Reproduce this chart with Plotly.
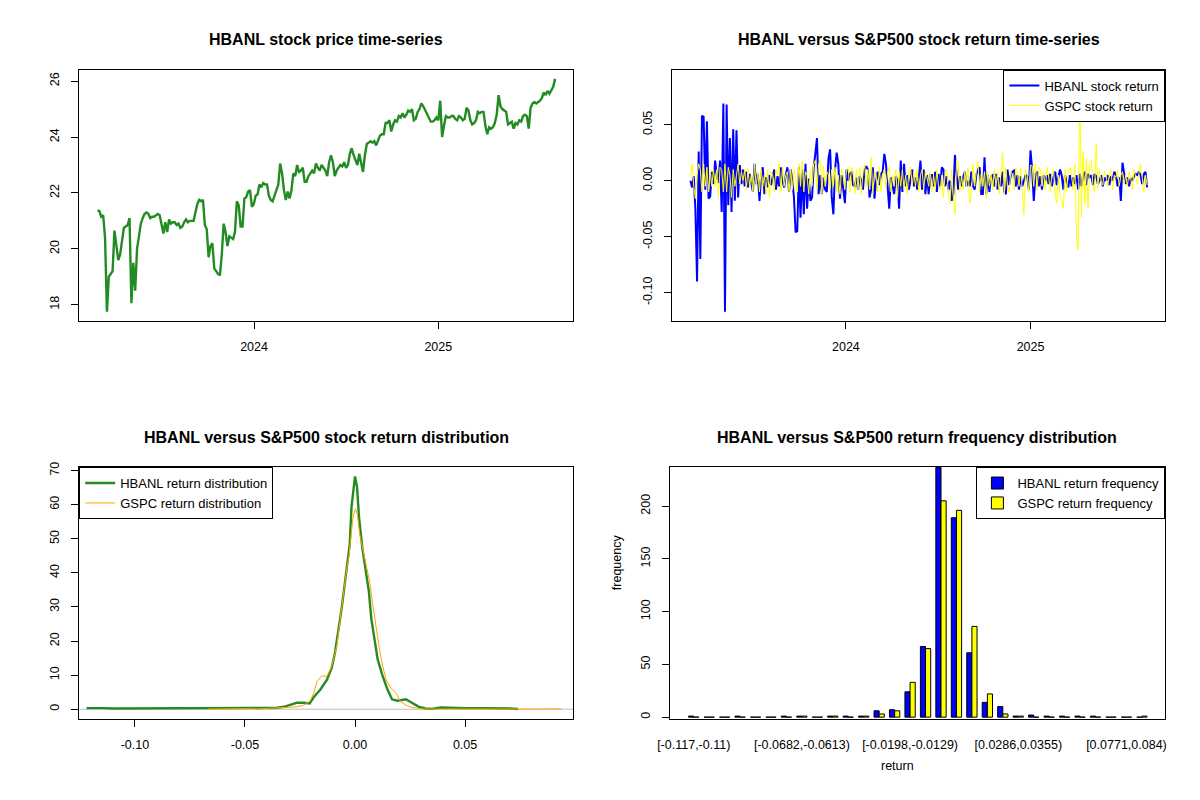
import numpy as np
import pandas as pd
import plotly.graph_objects as go

# ---- data ----
# HBANL closing price, evenly spaced between the first and last trading day
price_start, price_end = "2023-02-24", "2025-08-21"
hbanl_price = [
    21.38, 21.35, 21.15, 21.2, 20.4, 17.75, 19.0, 19.1, 19.2, 20.65,
    20.0, 19.6, 19.8, 20.2, 20.75, 20.8, 20.85, 21.1, 18.05, 19.5,
    18.5, 20.0, 20.4, 20.9, 21.1, 21.25, 21.3, 21.25, 21.1, 21.15,
    21.15, 21.2, 21.25, 21.2, 20.9, 20.55, 20.95, 20.6, 21.05, 20.9,
    20.95, 20.95, 20.85, 20.9, 20.75, 20.8, 20.95, 21.05, 20.95, 21.0,
    21.0, 21.0, 21.3, 21.6, 21.75, 21.7, 21.75, 20.85, 20.7, 19.7,
    20.1, 20.2, 19.3, 19.2, 19.1, 19.05, 19.8, 20.9, 20.6, 20.1,
    20.45, 20.4, 20.35, 20.6, 21.7, 21.55, 20.8, 20.8, 21.8, 21.85,
    22.05, 22.1, 21.5, 21.6, 21.9, 21.95, 22.3, 22.2, 22.35, 22.3,
    22.3, 21.9, 21.75, 21.7, 21.9, 22.1, 22.3, 23.05, 22.7, 22.1,
    21.75, 22.05, 21.8, 22.1, 22.7, 22.6, 23.0, 22.75, 22.8, 22.9,
    22.4, 22.4, 22.6, 22.7, 22.8, 22.7, 23.05, 22.9, 22.8, 23.0,
    22.9, 22.8, 22.6, 23.1, 23.35, 23.1, 22.6, 22.8, 22.9, 23.0,
    22.95, 23.1, 22.9, 23.0, 23.4, 23.6, 23.35, 23.2, 23.0, 23.4,
    23.0, 22.75, 23.35, 23.75, 23.8, 23.85, 23.8, 23.85, 23.7, 23.85,
    24.05, 24.1, 24.1, 24.5, 24.5, 24.6, 24.2, 24.45, 24.6, 24.55,
    24.75, 24.7, 24.85, 24.7, 24.8, 24.95, 24.9, 25.0, 24.6, 24.65,
    24.9, 25.0, 25.2, 25.1, 24.95, 24.8, 24.7, 24.55, 24.55, 24.6,
    24.7, 24.6, 25.3, 24.0, 24.4, 24.75, 24.7, 24.7, 24.75, 24.75,
    24.65, 24.6, 24.75, 24.7, 24.6, 24.65, 25.05, 24.95, 24.6, 24.45,
    24.5, 24.6, 24.9, 24.85, 24.9, 24.9, 24.4, 24.1, 24.35, 24.3,
    24.35, 24.5, 24.8, 25.5, 25.1, 25.0, 24.95, 24.9, 24.45, 24.5,
    24.55, 24.3, 24.5, 24.45, 24.6, 24.55, 24.75, 24.8, 24.75, 24.3,
    25.05, 25.2, 25.25, 25.2, 25.25, 25.3, 25.4, 25.6, 25.5, 25.65,
    25.55, 25.7, 25.8, 26.08,
]

# daily log returns (sampled evenly)
ret_start, ret_end = "2023-02-27", "2025-08-20"
hbanl_ret = [
    0.0, -0.006, 0.004, -0.026, -0.09, 0.026, -0.07, 0.058, 0.057, -0.008,
    0.053, -0.016, -0.014, 0.008, -0.003, 0.018, 0.005, -0.002, 0.018, -0.028,
    0.069, -0.117, 0.068, -0.022, 0.038, -0.028, 0.046, -0.018, 0.045, -0.015,
    0.014, -0.003, 0.01, -0.005, 0.008, -0.006, 0.006, -0.004, -0.01, 0.015,
    -0.003, 0.006, -0.018, 0.004, 0.012, -0.012, 0.003, -0.006, 0.005, -0.004,
    0.003, 0.01, -0.008, 0.004, -0.005, 0.012, 0.0, -0.006, 0.005, 0.012,
    -0.01, 0.01, 0.0, -0.015, -0.046, -0.045, 0.012, -0.033, 0.01, -0.03,
    0.015, -0.025, 0.002, -0.018, -0.015, 0.012, 0.024, 0.038, -0.012, 0.005,
    -0.012, 0.003, -0.008, -0.01, 0.02, 0.028, -0.015, -0.03, 0.01, 0.025,
    0.015, -0.016, 0.005, -0.008, -0.02, 0.01, 0.0, 0.006, 0.008, -0.004,
    -0.005, 0.003, -0.008, 0.004, 0.0, -0.008, 0.01, 0.013, 0.01, -0.015,
    -0.008, 0.012, -0.016, 0.0, 0.008, -0.004, 0.006, 0.008, 0.024, 0.015,
    -0.005, -0.025, 0.003, -0.005, -0.012, 0.004, 0.0, -0.025, 0.018, -0.01,
    0.015, -0.005, 0.005, -0.008, 0.0, 0.01, -0.005, 0.003, -0.008, 0.002,
    0.018, -0.008, 0.01, -0.012, 0.005, -0.012, 0.005, 0.005, -0.005, 0.008,
    -0.01, 0.006, -0.005, 0.012, 0.01, -0.005, 0.004, -0.008, 0.0, -0.018,
    -0.012, 0.023, 0.005, -0.008, 0.004, -0.005, 0.003, 0.008, -0.005, 0.0,
    -0.005, 0.008, -0.005, -0.008, 0.005, 0.01, 0.012, -0.012, -0.012, 0.021,
    -0.012, 0.005, -0.01, 0.004, 0.005, -0.005, 0.006, -0.008, 0.003, -0.005,
    0.008, -0.01, -0.012, 0.01, -0.004, 0.005, 0.008, 0.009, -0.005, 0.005,
    -0.008, 0.004, -0.005, 0.0, 0.005, 0.004, -0.008, 0.027, 0.01, -0.018,
    0.005, 0.008, -0.005, 0.004, -0.008, 0.005, 0.0, 0.005, -0.003, 0.006,
    -0.005, 0.003, 0.008, -0.004, 0.003, 0.01, 0.005, -0.008, 0.005, 0.0,
    -0.006, 0.005, -0.005, 0.003, -0.003, 0.005, -0.008, 0.006, -0.005, 0.004,
    0.008, -0.004, 0.006, 0.003, 0.005, -0.004, 0.006, 0.004, -0.003, 0.0,
    0.005, -0.005, 0.003, 0.0, 0.005, -0.004, 0.004, 0.0, 0.008, 0.005,
    -0.005, 0.003, -0.018, 0.016, 0.008, -0.003, 0.003, -0.005, 0.002, 0.0,
    0.004, 0.006, 0.005, 0.008, 0.005, -0.003, 0.006, 0.008, -0.006,
]
gspc_ret = [
    0.005, 0.015, -0.005, -0.016, 0.005, 0.015, 0.01, -0.01, 0.015, -0.005,
    0.012, -0.01, 0.01, -0.005, 0.01, -0.005, 0.01, -0.015, 0.012, 0.01,
    -0.01, 0.015, -0.01, 0.012, 0.005, -0.015, 0.01, -0.005, 0.005, 0.015,
    -0.003, 0.008, 0.0, 0.01, -0.008, 0.01, -0.005, 0.005, -0.01, 0.015,
    -0.005, 0.008, -0.01, 0.01, -0.005, 0.005, -0.012, 0.01, -0.015, 0.008,
    0.005, -0.01, 0.01, 0.005, 0.015, -0.01, 0.012, -0.005, 0.005, 0.008,
    -0.01, 0.01, -0.008, 0.01, 0.003, -0.01, 0.015, -0.005, 0.018, -0.01,
    0.008, 0.005, -0.012, 0.01, -0.005, 0.015, 0.018, -0.008, 0.015, 0.018,
    -0.012, 0.012, -0.005, 0.008, 0.005, -0.008, 0.01, -0.005, 0.012, -0.01,
    0.005, -0.012, 0.01, 0.005, -0.008, 0.01, 0.012, -0.01, 0.012, 0.008,
    -0.012, 0.01, -0.008, 0.012, -0.012, 0.008, 0.015, -0.005, 0.01, -0.008,
    0.021, -0.012, 0.008, 0.005, -0.01, 0.012, -0.01, 0.005, 0.01, -0.005,
    0.008, 0.012, -0.01, 0.005, -0.005, 0.01, -0.015, 0.008, -0.005, 0.01,
    -0.008, 0.005, -0.012, 0.01, 0.012, -0.005, 0.008, -0.005, 0.01, -0.01,
    0.005, 0.01, -0.008, 0.008, 0.003, -0.005, 0.008, -0.01, 0.005, -0.008,
    0.01, -0.005, -0.008, 0.005, -0.015, 0.008, 0.01, -0.012, -0.02, 0.01,
    -0.015, -0.03, 0.018, 0.015, -0.01, 0.005, -0.008, 0.008, -0.005, 0.012,
    -0.02, -0.012, 0.015, -0.005, 0.008, 0.017, -0.01, 0.006, -0.005, 0.008,
    -0.015, 0.008, -0.005, 0.005, -0.008, 0.01, -0.005, 0.008, -0.012, 0.01,
    0.025, -0.012, 0.012, -0.005, -0.01, 0.008, 0.005, -0.008, 0.012, 0.008,
    -0.005, 0.012, -0.008, -0.03, 0.01, 0.005, -0.01, 0.014, 0.013, -0.005,
    0.015, -0.008, 0.012, 0.01, -0.005, 0.008, -0.008, 0.012, 0.005, -0.01,
    0.005, 0.01, -0.012, -0.02, 0.005, -0.015, -0.018, -0.025, 0.01, -0.01,
    0.008, 0.012, 0.005, -0.008, 0.015, -0.049, -0.062, 0.0909, -0.033, 0.026,
    -0.02, 0.02, -0.025, 0.015, 0.018, -0.005, -0.01, 0.033, -0.006, 0.01,
    0.0, -0.004, 0.008, 0.005, -0.005, 0.006, 0.01, -0.008, 0.005, 0.003,
    0.01, -0.005, 0.005, 0.008, -0.003, 0.005, -0.005, 0.008, 0.003, -0.008,
    0.01, 0.004, -0.003, 0.006, 0.015, 0.003, -0.01, 0.005, -0.004,
]

# kernel density estimates
dens_x_hbanl = [
    -0.122, -0.118, -0.114, -0.11, -0.1, -0.09, -0.085, -0.078, -0.072, -0.066,
    -0.058, -0.05, -0.047, -0.042, -0.036, -0.0323, -0.0293, -0.0263, -0.0233, -0.0206,
    -0.0188, -0.0158, -0.0128, -0.0106, -0.0091, -0.0076, -0.0061, -0.0051, -0.0036, -0.0024,
    -0.0016, 0.0, 0.0009, 0.0018, 0.0033, 0.0048, 0.0063, 0.0074, 0.0088, 0.0103,
    0.0126, 0.0148, 0.0168, 0.0193, 0.0231, 0.026, 0.029, 0.032, 0.035, 0.039,
    0.043, 0.05, 0.058, 0.066, 0.07, 0.074,
]
dens_hbanl = [
    0.3, 0.4, 0.3, 0.2, 0.2, 0.4, 0.2, 0.2, 0.4, 0.2,
    0.2, 0.2, 0.3, 0.2, 0.4, 0.7, 1.4, 1.9, 1.9, 1.7,
    3.5, 5.7, 8.6, 12.1, 16.6, 22.6, 29.5, 34.5, 41.5, 48.4,
    59.3, 68.3, 65.3, 56.4, 47.4, 41.5, 34.5, 26.5, 20.6, 14.6,
    9.6, 5.7, 2.9, 2.5, 2.9, 1.9, 0.7, 0.2, 0.1, 0.5,
    0.4, 0.3, 0.3, 0.3, 0.2, 0.05,
]
dens_x_gspc = [
    -0.067, -0.062, -0.056, -0.05, -0.044, -0.038, -0.0308, -0.0263, -0.0233, -0.0203,
    -0.0188, -0.0173, -0.0151, -0.0128, -0.0106, -0.0083, -0.0069, -0.0054, -0.0039, -0.0027,
    -0.0016, -0.0009, 0.0002, 0.0011, 0.0021, 0.0036, 0.0051, 0.0066, 0.0081, 0.0096,
    0.0111, 0.0126, 0.0141, 0.0163, 0.0186, 0.0208, 0.0231, 0.026, 0.0306, 0.035,
    0.045, 0.06, 0.075, 0.086, 0.09, 0.094,
]
dens_gspc = [
    0.05, 0.15, 0.1, 0.15, 0.1, 0.3, 0.5, 0.7, 1.2, 2.5,
    4.7, 8.1, 9.8, 9.6, 12.6, 18.6, 25.6, 33.5, 40.5, 45.4,
    51.4, 56.4, 58.8, 56.9, 51.4, 46.4, 42.4, 37.5, 30.5, 23.6,
    17.6, 12.6, 8.6, 6.2, 4.7, 2.2, 1.2, 0.5, 0.1, 0.05,
    0.02, 0.02, 0.02, 0.05, 0.12, 0.05,
]

# return frequencies in 30 equal bins
hist_lo, hist_width = -0.11665, 0.006918
freq_hbanl = [1, 0, 0, 1, 0, 0, 1, 1, 0, 1,
              1, 1, 6, 7, 24, 67, 237, 189, 61, 14,
              10, 1, 2, 1, 1, 1, 1, 0, 0, 0]
freq_gspc = [0, 0, 0, 0, 0, 0, 0, 1, 0, 1,
             0, 1, 3, 6, 33, 65, 205, 196, 86, 22,
             3, 1, 0, 0, 0, 0, 0, 0, 0, 1]
year_ticks = ["2024-01-01", "2025-01-01"]
year_labels = ["2024", "2025"]

price_dates = pd.date_range(price_start, price_end, periods=len(hbanl_price))
ret_dates = pd.date_range(ret_start, ret_end, periods=len(hbanl_ret))

edges = hist_lo + hist_width * np.arange(len(freq_hbanl) + 1)
bins = [f"[{a:.3g},{b:.3g})" for a, b in zip(edges[:-1], edges[1:])]


def padded(lo, hi, frac=0.04):
    span = hi - lo
    return [lo - frac * span, hi + frac * span]


W, H = 1200, 800
FONT = "Liberation Sans, Arial, sans-serif"


def xdom(left, right):
    return [left / W, right / W]


def ydom(top, bottom):
    return [1 - bottom / H, 1 - top / H]


axis = dict(showline=True, linecolor="black", linewidth=1, mirror=True,
            ticks="outside", ticklen=7, tickwidth=1, tickcolor="black",
            showgrid=False, zeroline=False, ticklabelstandoff=7,
            tickfont=dict(family=FONT, size=12.5, color="black"))
yaxis_style = dict(axis, tickangle=-90)

fig = go.Figure()

# top left: price
fig.add_trace(go.Scatter(x=price_dates, y=hbanl_price, mode="lines",
                         line=dict(color="forestgreen", width=2.4),
                         showlegend=False, xaxis="x", yaxis="y"))

# top right: returns
fig.add_trace(go.Scatter(x=ret_dates, y=hbanl_ret, mode="lines", name="HBANL stock return",
                         line=dict(color="blue", width=2), xaxis="x2", yaxis="y2",
                         legend="legend"))
fig.add_trace(go.Scatter(x=ret_dates, y=gspc_ret, mode="lines", name="GSPC stock return",
                         line=dict(color="yellow", width=1), xaxis="x2", yaxis="y2",
                         legend="legend"))

# bottom left: densities
fig.add_trace(go.Scatter(x=dens_x_hbanl, y=dens_hbanl, mode="lines",
                         name="HBANL return distribution",
                         line=dict(color="forestgreen", width=2.4), xaxis="x3", yaxis="y3",
                         legend="legend2"))
fig.add_trace(go.Scatter(x=dens_x_gspc, y=dens_gspc, mode="lines",
                         name="GSPC return distribution",
                         line=dict(color="orange", width=1), xaxis="x3", yaxis="y3",
                         legend="legend2"))

# bottom right: frequencies
fig.add_trace(go.Bar(x=bins, y=freq_hbanl, name="HBANL return frequency",
                     marker=dict(color="blue", line=dict(color="black", width=1)),
                     xaxis="x4", yaxis="y4", legend="legend3"))
fig.add_trace(go.Bar(x=bins, y=freq_gspc, name="GSPC return frequency",
                     marker=dict(color="yellow", line=dict(color="black", width=1)),
                     xaxis="x4", yaxis="y4", legend="legend3"))

all_ret = hbanl_ret + gspc_ret
ret_range = padded(min(all_ret), max(all_ret))
nb = len(bins)
bar_pad = 0.04 * (3 * nb - 1) / 3

legend_style = dict(bgcolor="white", bordercolor="black", borderwidth=1,
                    font=dict(family=FONT, size=13, color="black"),
                    itemwidth=30, tracegroupgap=0, yanchor="top")

titles = [
    ("HBANL stock price time-series", 317, 35),
    ("HBANL versus S&P500 stock return time-series", 917, 35),
    ("HBANL versus S&P500 stock return distribution", 317, 435),
    ("HBANL versus S&P500 return frequency distribution", 915, 435),
]
annotations = [dict(text=f"<b>{t}</b>", x=x / W, y=1 - y / H, xref="paper", yref="paper",
                    xanchor="center", yanchor="middle", showarrow=False,
                    font=dict(family=FONT, size=16, color="black"))
               for t, x, y in titles]
annotations += [
    dict(text="frequency", x=611 / W, y=1 - 591 / H, xref="paper", yref="paper",
         textangle=-90, showarrow=False, font=dict(family=FONT, size=12.5, color="black")),
    dict(text="return", x=914 / W, y=1 - 775 / H, xref="paper", yref="paper",
         showarrow=False, font=dict(family=FONT, size=12.5, color="black")),
]

fig.update_layout(
    width=W, height=H, autosize=False,
    margin=dict(l=0, r=0, t=0, b=0),
    paper_bgcolor="white", plot_bgcolor="white",
    font=dict(family=FONT, size=12, color="black"),
    barmode="group", bargap=1 / 3, bargroupgap=0,
    xaxis=dict(axis, domain=xdom(67, 567), anchor="y", type="date",
               range=padded(price_dates[0], price_dates[-1]),
               tickvals=year_ticks, ticktext=year_labels),
    yaxis=dict(yaxis_style, domain=ydom(65, 318), anchor="x",
               range=padded(min(hbanl_price), max(hbanl_price)),
               tickvals=[18, 20, 22, 24, 26]),
    xaxis2=dict(axis, domain=xdom(667, 1166), anchor="y2", type="date",
                range=padded(ret_dates[0], ret_dates[-1]),
                tickvals=year_ticks, ticktext=year_labels),
    yaxis2=dict(yaxis_style, domain=ydom(65, 318), anchor="x2", range=ret_range,
                tickvals=[-0.10, -0.05, 0.0, 0.05],
                ticktext=["-0.10", "-0.05", "0.00", "0.05"]),
    xaxis3=dict(axis, domain=xdom(67, 567), anchor="y3", range=ret_range,
                tickvals=[-0.10, -0.05, 0.0, 0.05],
                ticktext=["-0.10", "-0.05", "0.00", "0.05"]),
    yaxis3=dict(yaxis_style, domain=ydom(465, 718), anchor="x3",
                range=padded(0, max(dens_hbanl)), tickvals=list(range(0, 80, 10))),
    xaxis4=dict(axis, domain=xdom(665, 1166), anchor="y4", type="category",
                range=[-1 / 3 - bar_pad, nb - 1 + 1 / 3 + bar_pad],
                tickvals=[bins[i] for i in range(0, nb, 7)], ticks="", ticklabelstandoff=14),
    yaxis4=dict(yaxis_style, domain=ydom(465, 718), anchor="x4",
                range=[-1.3, max(freq_hbanl)], tickvals=[0, 50, 100, 150, 200]),
    legend=dict(legend_style, x=1166 / W, y=1 - 65 / H, xanchor="right"),
    legend2=dict(legend_style, x=67 / W, y=1 - 465 / H, xanchor="left"),
    legend3=dict(legend_style, x=1166 / W, y=1 - 465 / H, xanchor="right"),
    shapes=[dict(type="line", xref="x3 domain", yref="y3", x0=0, x1=1, y0=0, y1=0,
                 line=dict(color="#BEBEBE", width=1), layer="below")],
    annotations=annotations,
)

# the page's default body margin would shift the fixed-size figure
fig.write_html("out.html", config={"displayModeBar": False},
               post_script="document.body.style.margin = '0';")
